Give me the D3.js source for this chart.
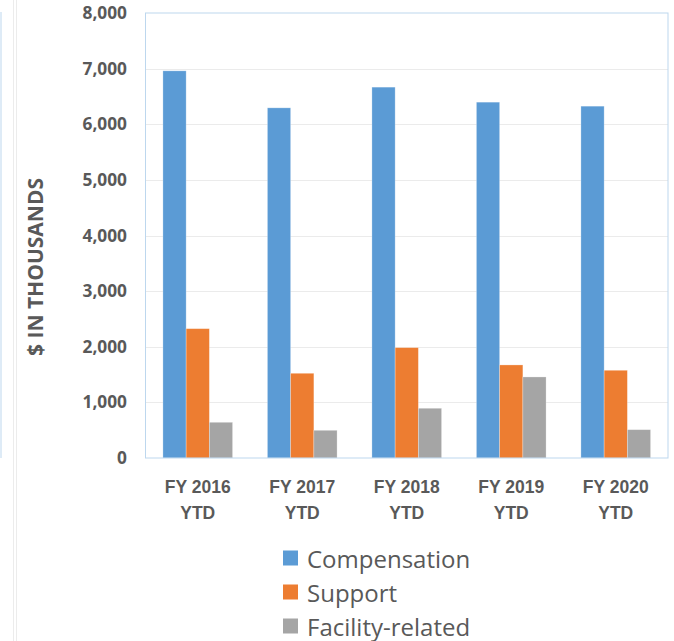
<!DOCTYPE html>
<html>
<head>
<meta charset="utf-8">
<script src="https://cdn.jsdelivr.net/npm/d3@7"></script>
<style>
  html, body { margin: 0; padding: 0; background: #fff; }
  svg { display: block; font-family: "Open Sans", "Noto Sans", sans-serif; }
</style>
</head>
<body>
<svg id="chart" width="674" height="641"></svg>
<script>
const categories = ["FY 2016 YTD", "FY 2017 YTD", "FY 2018 YTD", "FY 2019 YTD", "FY 2020 YTD"];
const seriesNames = ["Compensation", "Support", "Facility-related"];
const compensation = [6960, 6295, 6667, 6397, 6325];
const support = [2325, 1523, 1984, 1673, 1577];
const facility = [642, 498, 894, 1457, 509];
const yTicks = [0, 1000, 2000, 3000, 4000, 5000, 6000, 7000, 8000];
const colors = ["#5b9bd5", "#ed7d31", "#a5a5a5"];

const seriesValues = [compensation, support, facility];
const svg = d3.select("#chart");
const margin = { left: 145.5, right: 668, top: 13, bottom: 458 };
const textColor = "#595959";

// left-edge artifacts (neighbouring panel edges)
svg.append("line").attr("x1", 1).attr("x2", 1).attr("y1", 12).attr("y2", 458)
  .attr("stroke", "#bdd7ee").attr("stroke-width", 1);
svg.append("line").attr("x1", 13.5).attr("x2", 13.5).attr("y1", 0).attr("y2", 641)
  .attr("stroke", "#ececec").attr("stroke-width", 1);
svg.append("line").attr("x1", 16.5).attr("x2", 16.5).attr("y1", 0).attr("y2", 641)
  .attr("stroke", "#ececec").attr("stroke-width", 1);

const x0 = d3.scaleBand().domain(categories).range([margin.left, margin.right]).paddingInner(0).paddingOuter(0);
const groupWidth = x0.bandwidth() / 1.5;
const x1 = d3.scaleBand().domain(seriesNames).range([0, groupWidth]).padding(0);
const y = d3.scaleLinear().domain([0, 8000]).range([margin.bottom, margin.top]);

// gridlines
svg.append("g").selectAll("line").data(yTicks.filter(t => t > 0 && t < 8000)).join("line")
  .attr("x1", margin.left).attr("x2", margin.right)
  .attr("y1", d => Math.round(y(d)) + 0.5).attr("y2", d => Math.round(y(d)) + 0.5)
  .attr("stroke", "#ebebeb").attr("stroke-width", 1);

// bars
const groups = svg.append("g").selectAll("g").data(categories).join("g")
  .attr("transform", d => `translate(${x0(d) + (x0.bandwidth() - groupWidth) / 2},0)`);
groups.selectAll("rect").data((c, i) => seriesNames.map((s, j) => ({ s, j, v: seriesValues[j][i] }))).join("rect")
  .attr("x", d => x1(d.s))
  .attr("width", x1.bandwidth())
  .attr("y", d => y(d.v))
  .attr("height", d => y(0) - y(d.v))
  .attr("fill", d => colors[d.j])
  .attr("stroke", "#ffffff").attr("stroke-opacity", 0.35).attr("stroke-width", 0.75);

// plot border
svg.append("rect").attr("x", margin.left).attr("y", margin.top)
  .attr("width", margin.right - margin.left).attr("height", margin.bottom - margin.top)
  .attr("fill", "none").attr("stroke", "#bdd7ee").attr("stroke-width", 1);

// y axis labels
const yAxis = d3.axisLeft(y).tickValues(yTicks).tickSize(0).tickPadding(0).tickFormat(d3.format(","));
const yg = svg.append("g").attr("transform", `translate(127,0)`).call(yAxis);
yg.select(".domain").remove();
yg.selectAll("text").attr("fill", textColor).attr("font-size", "17.3px").attr("font-weight", "bold")
  .attr("font-family", "'Open Sans', sans-serif");

// y title
svg.append("text").attr("transform", "translate(35,267) rotate(-90)")
  .attr("text-anchor", "middle").attr("dominant-baseline", "central")
  .attr("fill", textColor).attr("font-size", "21px").attr("font-weight", "bold")
  .text("$ IN THOUSANDS");

// x axis labels
const xAxis = d3.axisBottom(x0).tickSize(0).tickFormat("");
const xg = svg.append("g").attr("transform", `translate(0,${margin.bottom})`).call(xAxis);
xg.select(".domain").remove();
xg.selectAll(".tick").each(function (d) {
  const parts = d.split(" ");
  const t = d3.select(this).append("text").attr("fill", textColor)
    .attr("font-size", "17.5px").attr("font-weight", "bold").attr("text-anchor", "middle");
  t.append("tspan").attr("x", 0).attr("y", 29).attr("dominant-baseline", "central").text(parts[0] + " " + parts[1]);
  t.append("tspan").attr("x", 0).attr("y", 55).attr("dominant-baseline", "central").text(parts[2]);
});

// legend
const legend = svg.append("g").selectAll("g").data(seriesNames).join("g")
  .attr("transform", (d, i) => `translate(283,${558 + i * 34})`);
legend.append("rect").attr("x", 0).attr("y", -7.5).attr("width", 15).attr("height", 15)
  .attr("fill", (d, i) => colors[i]);
legend.append("text").attr("x", 24).attr("y", 0).attr("dominant-baseline", "central")
  .attr("fill", textColor).attr("font-size", "24px").text(d => d);
</script>
</body>
</html>
